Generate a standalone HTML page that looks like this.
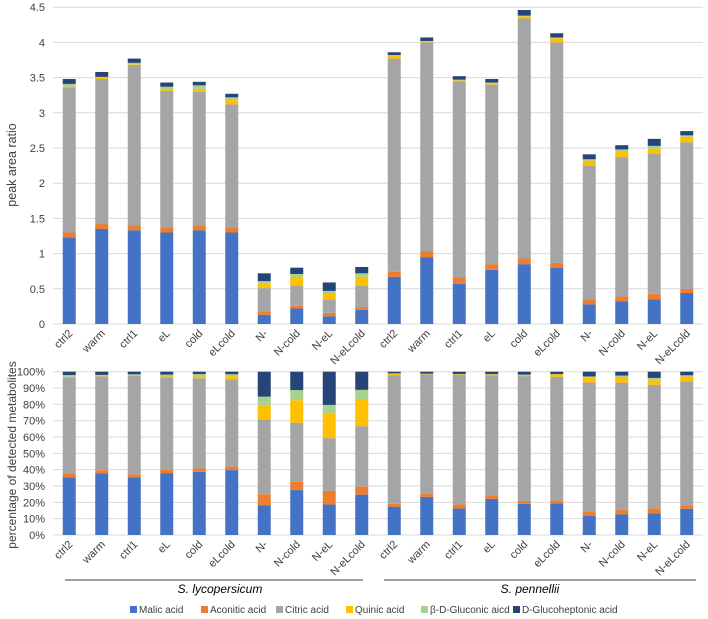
<!DOCTYPE html>
<html><head><meta charset="utf-8"><style>
body{margin:0;background:#fff;}
svg{display:block;font-family:"Liberation Sans",sans-serif;}
</style></head><body>
<svg id="chart" width="708" height="619" viewBox="0 0 708 619"></svg>
<script>
const categories=["ctrl2","warm","ctrl1","eL","cold","eLcold","N-","N-cold","N-eL","N-eLcold","ctrl2","warm","ctrl1","eL","cold","eLcold","N-","N-cold","N-eL","N-eLcold"];
const seriesNames=["Malic acid","Aconitic acid","Citric acid","Quinic acid","β-D-Gluconic aicd","D-Glucoheptonic acid"];
const malic=[1.23,1.35,1.33,1.30,1.33,1.30,0.13,0.22,0.11,0.20,0.67,0.95,0.57,0.77,0.85,0.80,0.28,0.32,0.35,0.44];
const aconitic=[0.07,0.07,0.07,0.07,0.07,0.07,0.05,0.04,0.05,0.04,0.07,0.08,0.09,0.08,0.08,0.07,0.07,0.07,0.08,0.06];
const citric=[2.06,2.06,2.28,1.94,1.90,1.75,0.33,0.29,0.19,0.30,3.03,2.97,2.79,2.55,3.41,3.13,1.90,1.98,1.99,2.08];
const quinic=[0.01,0.02,0.01,0.02,0.04,0.06,0.06,0.11,0.09,0.13,0.04,0.01,0.01,0.02,0.03,0.06,0.07,0.08,0.07,0.08];
const gluconic=[0.04,0.01,0.02,0.04,0.05,0.04,0.04,0.05,0.03,0.05,0.01,0.01,0.01,0.01,0.01,0.01,0.02,0.03,0.04,0.02];
const glucoheptonic=[0.07,0.07,0.06,0.06,0.05,0.05,0.11,0.09,0.12,0.09,0.04,0.05,0.05,0.05,0.08,0.06,0.07,0.06,0.10,0.06];
const topTicks=[0,0.5,1,1.5,2,2.5,3,3.5,4,4.5];
const pctTicks=[0,10,20,30,40,50,60,70,80,90,100];
const colors=["#4472C4","#ED7D31","#A5A5A5","#FFC000","#A9D18E","#264478"];
const series=[malic,aconitic,citric,quinic,gluconic,glucoheptonic];
const slugs=["malic","aconitic","citric","quinic","gluconic","glucoheptonic"];

const svg=document.getElementById('chart');
const NS="http://www.w3.org/2000/svg";
function mk(tag,attrs,parent){const e=document.createElementNS(NS,tag);for(const k in attrs)e.setAttribute(k,attrs[k]);(parent||svg).appendChild(e);return e;}
const plotL=53,plotR=703,band=(plotR-plotL)/categories.length,barW=13;
function xc(i){return plotL+band*(i+0.5);}
function yTop(v){return 324-v*70.4;}
function yPct(p){return 535-p*1.633;}

topTicks.forEach(t=>{
  const g=mk('line',{x1:plotL,x2:plotR,y1:yTop(t),y2:yTop(t),stroke:'#d9d9d9','stroke-width':1});
  
  
  const tx=mk('text',{x:45,y:yTop(t)+4,'text-anchor':'end','font-size':11,fill:'#404040'});
  tx.textContent=String(t);
  
  
});
pctTicks.forEach(t=>{
  const g=mk('line',{x1:plotL,x2:plotR,y1:yPct(t),y2:yPct(t),stroke:'#d9d9d9','stroke-width':1});
  
  
  const tx=mk('text',{x:45,y:yPct(t)+4,'text-anchor':'end','font-size':11,fill:'#404040'});
  tx.textContent=t+'%';
  
  
});

categories.forEach((c,i)=>{
  let cum=0,total=0;series.forEach(s=>total+=s[i]);
  let cp=0;
  series.forEach((s,k)=>{
    const v=s[i];
    const r=mk('rect',{x:xc(i)-barW/2,y:yTop(cum+v),width:barW,height:Math.max(0,yTop(cum)-yTop(cum+v)),fill:colors[k]});
    
    
    cum+=v;
    const p=v/total*100;
    const r2=mk('rect',{x:xc(i)-barW/2,y:yPct(cp+p),width:barW,height:Math.max(0,yPct(cp)-yPct(cp+p)),fill:colors[k]});
    
    
    cp+=p;
  });
  [334,545].forEach((yy,j)=>{
    const t=mk('text',{x:xc(i)+4,y:yy,'text-anchor':'end','font-size':11,fill:'#404040',transform:`rotate(-45 ${xc(i)+4} ${yy})`});
    t.textContent=c;
    
    
  });
});

const yt1=mk('text',{x:16,y:165,'text-anchor':'middle','font-size':12.5,fill:'#404040',transform:'rotate(-90 16 165)'});
yt1.textContent='peak area ratio';


const yt2=mk('text',{x:16,y:455,'text-anchor':'middle','font-size':12,fill:'#404040',transform:'rotate(-90 16 455)'});
yt2.textContent='percentage of detected metabolites';



const l1=mk('line',{x1:65,x2:363,y1:580,y2:580,stroke:'#404040','stroke-width':1});


const l2=mk('line',{x1:384,x2:696,y1:580,y2:580,stroke:'#404040','stroke-width':1});


const g1=mk('text',{x:220,y:593,'text-anchor':'middle','font-size':12,'font-style':'italic',fill:'#000'});
g1.textContent='S. lycopersicum';


const g2=mk('text',{x:530,y:593,'text-anchor':'middle','font-size':12,'font-style':'italic',fill:'#000'});
g2.textContent='S. pennellii';



const legX=[130,201,276,346,421,513];
seriesNames.forEach((n,k)=>{
  const r=mk('rect',{x:legX[k],y:606,width:7,height:7,fill:colors[k]});
  
  
  const t=mk('text',{x:legX[k]+9,y:613,'font-size':10,fill:'#404040'});
  t.textContent=n;
  
  
});
</script>
</body></html>
